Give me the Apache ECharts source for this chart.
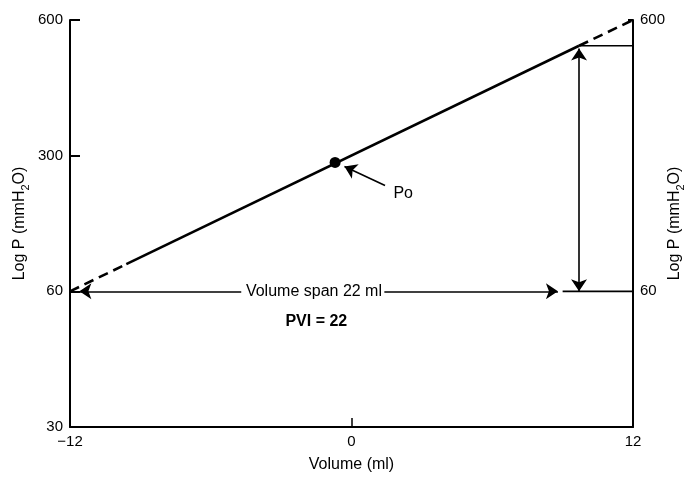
<!DOCTYPE html>
<html>
<head>
<meta charset="utf-8">
<script src="https://cdn.jsdelivr.net/npm/echarts@6/dist/echarts.min.js"></script>
<style>html,body{margin:0;padding:0;background:#fff;}#c{width:690px;height:477px;}</style>
</head>
<body>
<div id="c"></div>
<script>
// Y positions are in tick-slot units: 0 -> 30, 1 -> 60, 2 -> 300, 3 -> 600 (evenly spaced ticks in the figure)
var yTickLabels = ['30', '60', '300', '600'];
var xTicks = [-12, 0, 12];
var dashedLeft = [[-12, 1.0], [-9.6, 1.2]];
var solidLine = [[-9.6, 1.2], [9.7, 2.81]];
var dashedRight = [[9.7, 2.81], [12, 3.0]];
var poPoint = [[-0.7, 1.95]];
var topLevel = [[9.7, 2.81], [12, 2.81]];
var baseLevel = [[9.0, 1.0], [12, 1.0]];
var verticalArrow = [[9.7, 2.79], [9.7, 1.0]];
var spanArrowLeft = [[-4.7, 1.0], [-11.6, 1.0]];
var spanArrowRight = [[1.4, 1.0], [8.8, 1.0]];
var poArrow = [[1.43, 1.78], [-0.3, 1.92]];
var spanText = [[-1.6, 1.0]];
var pviText = [[-1.5, 0.78]];
var poText = [[1.7, 1.72]];

var FONT = 'Liberation Sans';
var chart = echarts.init(document.getElementById('c'));
var axisName = '{a|Log P (mmH}{s|2}{a|O)}';
var nameRich = {
  a: {fontFamily: FONT, fontSize: 16, color: '#000', lineHeight: 22},
  s: {fontFamily: FONT, fontSize: 11, color: '#000', lineHeight: 22, verticalAlign: 'bottom', padding: [7, 0, 0, 0]}
};
function lineSeries(data, type) {
  return {type: 'line', data: data, symbol: 'none', silent: true,
    lineStyle: {color: '#000', width: 2.6, type: type === 'dashed' ? [10, 6] : 'solid'}, z: 3};
}
function arrowSeries(data, both) {
  return {type: 'lines', coordinateSystem: 'cartesian2d', silent: true,
    symbol: both ? ['arrow', 'arrow'] : ['none', 'arrow'], symbolSize: [12, 12],
    lineStyle: {color: '#000', width: 1.6, opacity: 1, curveness: 0},
    data: [{coords: data}], z: 4};
}
function textSeries(data, text, bold, align) {
  return {type: 'scatter', data: data, symbolSize: 0, silent: true,
    itemStyle: {opacity: 1},
    label: {show: true, position: 'inside', formatter: text, color: '#000',
      fontFamily: FONT, fontSize: 16, fontWeight: bold ? 'bold' : 'normal',
      align: align || 'center', verticalAlign: 'middle',
      backgroundColor: bold || align ? 'transparent' : '#fff', padding: [0, 2, 0, 2]}, z: 6};
}
chart.setOption({
  animation: false,
  grid: {left: 70, right: 57, top: 20, bottom: 50, containLabel: false, outerBoundsMode: 'none'},
  xAxis: {
    type: 'value', min: -12, max: 12, interval: 12,
    name: 'Volume (ml)', nameLocation: 'middle', nameGap: 30,
    nameTextStyle: {fontFamily: FONT, fontSize: 16, color: '#000'},
    axisLine: {onZero: false, lineStyle: {color: '#000', width: 2}},
    axisTick: {inside: true, length: 9, lineStyle: {color: '#000', width: 1.5}},
    axisLabel: {fontFamily: FONT, fontSize: 15, color: '#000', margin: 7,
      formatter: function (v) { return String(v).replace('-', '\u2212'); }},
    splitLine: {show: false}
  },
  yAxis: [{
    type: 'value', min: 0, max: 3, interval: 1, position: 'left',
    name: axisName, nameLocation: 'middle', nameGap: 39, nameRotate: 90, nameMoveOverlap: false,
    nameTextStyle: {rich: nameRich},
    axisLine: {show: true, onZero: false, lineStyle: {color: '#000', width: 2}},
    axisTick: {show: true, inside: true, length: 10, lineStyle: {color: '#000', width: 2}},
    axisLabel: {fontFamily: FONT, fontSize: 15, color: '#000', margin: 7,
      formatter: function (v) { return yTickLabels[v]; }},
    splitLine: {show: false}
  }, {
    type: 'value', min: 0, max: 3, interval: 1, position: 'right',
    name: axisName, nameLocation: 'middle', nameGap: 31, nameRotate: 90, nameMoveOverlap: false,
    nameTextStyle: {rich: nameRich},
    axisLine: {show: true, onZero: false, lineStyle: {color: '#000', width: 2}},
    axisTick: {show: true, inside: true, length: 5, customValues: [3], lineStyle: {color: '#000', width: 2}},
    axisLabel: {fontFamily: FONT, fontSize: 15, color: '#000', margin: 7, customValues: [1, 3],
      formatter: function (v) { return yTickLabels[v]; }},
    splitLine: {show: false}
  }],
  series: [
    lineSeries(dashedLeft, 'dashed'),
    lineSeries(solidLine, 'solid'),
    lineSeries(dashedRight, 'dashed'),
    {type: 'line', data: topLevel, symbol: 'none', silent: true, lineStyle: {color: '#000', width: 1.6}},
    {type: 'line', data: baseLevel, symbol: 'none', silent: true, lineStyle: {color: '#000', width: 1.6}},
    arrowSeries(verticalArrow, true),
    arrowSeries(spanArrowLeft, false),
    arrowSeries(spanArrowRight, false),
    arrowSeries(poArrow, false),
    {type: 'scatter', data: poPoint, symbol: 'circle', symbolSize: 11, silent: true,
      itemStyle: {color: '#000', opacity: 1}, z: 5},
    textSeries(spanText, 'Volume span 22 ml', false),
    textSeries(pviText, 'PVI = 22', true),
    textSeries(poText, 'Po', false, 'left')
  ]
});
</script>
</body>
</html>
